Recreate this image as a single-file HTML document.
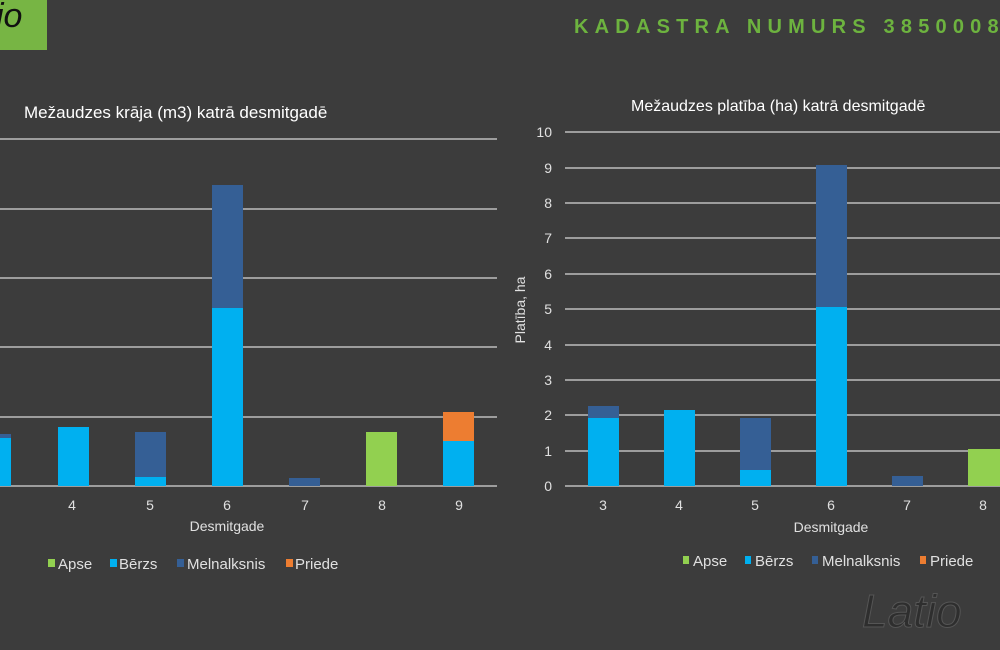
<!DOCTYPE html>
<html><head><meta charset="utf-8"><style>
body{margin:0;background:#3c3c3c;}
svg{display:block}
text{font-family:"Liberation Sans",sans-serif;}
</style></head><body>
<svg width="1000" height="650" viewBox="0 0 1000 650">
<rect width="1000" height="650" fill="#3c3c3c"/>
<rect x="0" y="0" width="47" height="50" fill="#77b544"/>
<text x="-4" y="27" font-size="34" font-style="italic" fill="#111" font-family="Liberation Serif,serif">io</text>
<text x="574" y="33" font-size="20" font-weight="bold" fill="#6db33f" letter-spacing="6.2">KADASTRA NUMURS 38500080</text>
<text x="24" y="118" font-size="17" fill="#fff">Mežaudzes krāja (m3) katrā desmitgadē</text>
<g stroke="#bdbdbd" stroke-width="1.5">
<line x1="0" y1="139" x2="497" y2="139"/><line x1="0" y1="209" x2="497" y2="209"/>
<line x1="0" y1="278" x2="497" y2="278"/><line x1="0" y1="347" x2="497" y2="347"/>
<line x1="0" y1="417" x2="497" y2="417"/><line x1="0" y1="486" x2="497" y2="486"/>
</g>
<g>
<rect x="-20" y="434" width="31" height="52" fill="#355f95"/><rect x="-20" y="438" width="31" height="48" fill="#00b0f0"/>
<rect x="58" y="427" width="31" height="59" fill="#00b0f0"/>
<rect x="135" y="432" width="31" height="54" fill="#355f95"/><rect x="135" y="477" width="31" height="9" fill="#00b0f0"/>
<rect x="212" y="185" width="31" height="301" fill="#355f95"/><rect x="212" y="308" width="31" height="178" fill="#00b0f0"/>
<rect x="289" y="478" width="31" height="8" fill="#355f95"/>
<rect x="366" y="432" width="31" height="54" fill="#92d050"/>
<rect x="443" y="412" width="31" height="74" fill="#ed7d31"/><rect x="443" y="441" width="31" height="45" fill="#00b0f0"/>
</g>
<g font-size="14" fill="#e0e0e0" text-anchor="middle">
<text x="72" y="510">4</text><text x="150" y="510">5</text><text x="227" y="510">6</text><text x="305" y="510">7</text><text x="382" y="510">8</text><text x="459" y="510">9</text>
<text x="227" y="531">Desmitgade</text>
</g>
<g font-size="15" fill="#e0e0e0">
<rect x="48" y="559" width="7" height="8" fill="#92d050"/><text x="58" y="569">Apse</text>
<rect x="110" y="559" width="7" height="8" fill="#00b0f0"/><text x="119" y="569">Bērzs</text>
<rect x="177" y="559" width="7" height="8" fill="#355f95"/><text x="187" y="569">Melnalksnis</text>
<rect x="286" y="559" width="7" height="8" fill="#ed7d31"/><text x="295" y="569">Priede</text>
</g>

<text x="631" y="111" font-size="16" fill="#fff">Mežaudzes platība (ha) katrā desmitgadē</text>
<g stroke="#bdbdbd" stroke-width="1.5">
<line x1="565" y1="132" x2="1000" y2="132"/><line x1="565" y1="168" x2="1000" y2="168"/>
<line x1="565" y1="203" x2="1000" y2="203"/><line x1="565" y1="238" x2="1000" y2="238"/>
<line x1="565" y1="274" x2="1000" y2="274"/><line x1="565" y1="309" x2="1000" y2="309"/>
<line x1="565" y1="345" x2="1000" y2="345"/><line x1="565" y1="380" x2="1000" y2="380"/>
<line x1="565" y1="415" x2="1000" y2="415"/><line x1="565" y1="451" x2="1000" y2="451"/>
<line x1="565" y1="486" x2="1000" y2="486"/>
</g>
<g font-size="14" fill="#e0e0e0" text-anchor="end">
<text x="552" y="137">10</text><text x="552" y="173">9</text><text x="552" y="208">8</text><text x="552" y="243">7</text>
<text x="552" y="279">6</text><text x="552" y="314">5</text><text x="552" y="350">4</text><text x="552" y="385">3</text>
<text x="552" y="420">2</text><text x="552" y="456">1</text><text x="552" y="491">0</text>
</g>
<text transform="translate(525,310) rotate(-90)" font-size="14" fill="#e0e0e0" text-anchor="middle">Platība, ha</text>
<g>
<rect x="588" y="406" width="31" height="80" fill="#355f95"/><rect x="588" y="418" width="31" height="68" fill="#00b0f0"/>
<rect x="664" y="410" width="31" height="76" fill="#00b0f0"/>
<rect x="740" y="418" width="31" height="68" fill="#355f95"/><rect x="740" y="470" width="31" height="16" fill="#00b0f0"/>
<rect x="816" y="165" width="31" height="321" fill="#355f95"/><rect x="816" y="307" width="31" height="179" fill="#00b0f0"/>
<rect x="892" y="476" width="31" height="10" fill="#355f95"/>
<rect x="968" y="449" width="32" height="37" fill="#92d050"/>
</g>
<g font-size="14" fill="#e0e0e0" text-anchor="middle">
<text x="603" y="510">3</text><text x="679" y="510">4</text><text x="755" y="510">5</text><text x="831" y="510">6</text><text x="907" y="510">7</text><text x="983" y="510">8</text>
<text x="831" y="532">Desmitgade</text>
</g>
<g font-size="15" fill="#e0e0e0">
<rect x="683" y="556" width="6" height="8" fill="#92d050"/><text x="693" y="566">Apse</text>
<rect x="745" y="556" width="6" height="8" fill="#00b0f0"/><text x="755" y="566">Bērzs</text>
<rect x="812" y="556" width="6" height="8" fill="#355f95"/><text x="822" y="566">Melnalksnis</text>
<rect x="920" y="556" width="6" height="8" fill="#ed7d31"/><text x="930" y="566">Priede</text>
</g>
<text x="862" y="627" font-size="46" font-style="italic" fill="#2e2e2e" stroke="#555" stroke-width="1" font-family="Liberation Serif,serif">Latio</text>
</svg>
</body></html>
